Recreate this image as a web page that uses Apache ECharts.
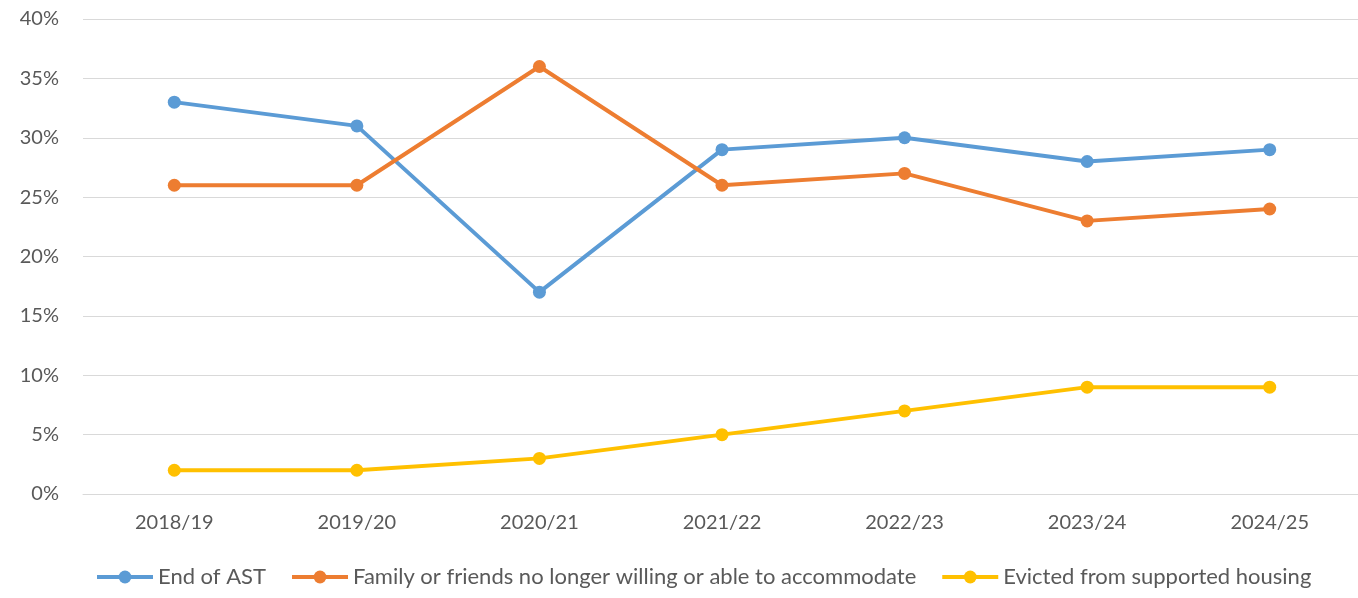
<!DOCTYPE html>
<html>
<head>
<meta charset="utf-8">
<script src="https://cdn.jsdelivr.net/npm/echarts@6/dist/echarts.min.js"></script>
<style>
  html, body { margin: 0; padding: 0; background: #fff; }
  #chart { width: 1358px; height: 598px; }
</style>
</head>
<body>
<div id="chart"></div>
<script>
const years = ['2018/19', '2019/20', '2020/21', '2021/22', '2022/23', '2023/24', '2024/25']
const endOfAst = [33, 31, 17, 29, 30, 28, 29]
const familyFriends = [26, 26, 36, 26, 27, 23, 24]
const supportedHousing = [2, 2, 3, 5, 7, 9, 9]

const seriesNames = [
  'End of AST',
  'Family or friends no longer willing or able to accommodate',
  'Evicted from supported housing'
]
const colors = ['#5B9BD5', '#ED7D31', '#FFC000']

const textColor = '#595959'
const font = 'Lato, "Open Sans", sans-serif'

const chart = echarts.init(document.getElementById('chart'))

function lineSeries(name, data, color) {
  return {
    name: name,
    type: 'line',
    data: data,
    symbol: 'circle',
    symbolSize: 13,
    color: color,
    lineStyle: { width: 4, color: color },
    itemStyle: { color: color },
    animation: false
  }
}

chart.setOption({
  animation: false,
  textStyle: { fontFamily: font },
  grid: { left: 83, right: -3, top: 19, bottom: 104, outerBoundsMode: 'none' },
  legend: {
    bottom: 5,
    left: 90,
    itemWidth: 56,
    itemHeight: 16,
    itemGap: 24,
    lineStyle: { width: 4 },
    textStyle: { color: textColor, fontSize: 22, fontFamily: font },
    data: seriesNames
  },
  xAxis: {
    type: 'category',
    data: years,
    axisLine: { lineStyle: { color: '#d9d9d9', width: 1 } },
    axisTick: { show: false },
    axisLabel: { color: textColor, fontSize: 20, margin: 19 }
  },
  yAxis: {
    type: 'value',
    min: 0,
    max: 40,
    interval: 5,
    axisLine: { show: false },
    axisTick: { show: false },
    splitLine: { lineStyle: { color: '#d9d9d9', width: 1 } },
    axisLabel: { color: textColor, fontSize: 20, margin: 24, formatter: '{value}%' }
  },
  series: [
    lineSeries(seriesNames[0], endOfAst, colors[0]),
    lineSeries(seriesNames[1], familyFriends, colors[1]),
    lineSeries(seriesNames[2], supportedHousing, colors[2])
  ]
})
</script>
</body>
</html>
